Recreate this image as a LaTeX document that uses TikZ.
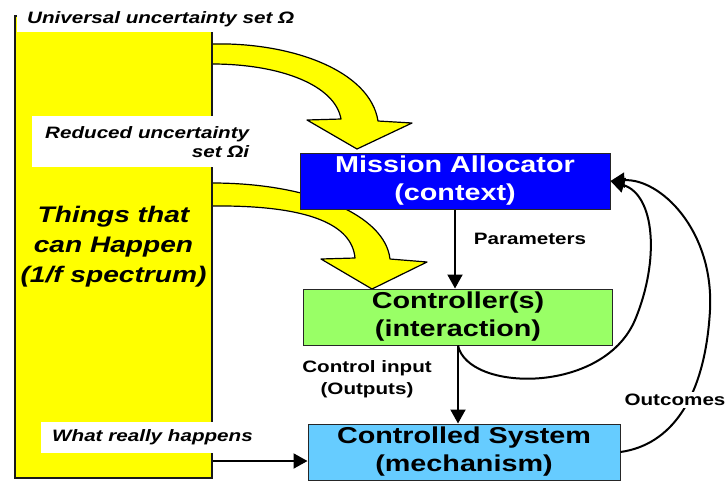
\documentclass[tikz,border=0pt]{standalone}
\usepackage{fontspec}
\setmainfont{Liberation Sans}[FakeStretch=1.25]
\usetikzlibrary{arrows.meta, positioning, calc}
\definecolor{allocblue}{RGB}{0,0,255}
\definecolor{ctrlgreen}{RGB}{153,255,102}
\definecolor{plantblue}{RGB}{102,204,255}
\definecolor{bandyellow}{RGB}{255,255,0}
\tikzset{
  block/.style={
    rectangle,
    draw=black!85,
    line width=1pt,
    inner sep=0pt,
    align=center,
    minimum width=310pt,
    minimum height=56pt,
    font=\fontsize{23}{28}\selectfont\bfseries
  },
  note/.style={
    fill=white,
    inner ysep=0pt,
    anchor=north west,
    font=\fontsize{16.5}{19}\selectfont\bfseries\itshape
  },
  tag/.style={
    inner sep=0pt,
    align=center,
    font=\fontsize{16.5}{22}\selectfont\bfseries
  },
  arrow/.style={
    line width=2pt,
    -{Triangle[width=15pt,length=14pt]}
  },
  band/.style={
    fill=bandyellow,
    draw=black,
    line width=1.2pt,
    line join=round
  }
}

\begin{document}
\begin{tikzpicture}[x=1pt, y=-1pt]
  \useasboundingbox (0,0) rectangle (725,483);

  % broad yellow arrows out of the spectrum bar
  \draw[band] (205,44) -- (212,44) .. controls (290,42) and (370,70) .. (378,121)
    -- (412,123) -- (357,149) -- (307,120) -- (341,119)
    .. controls (335,85) and (280,64) .. (212,64) -- (205,64) -- cycle;
  \draw[band] (205,183) -- (212,183) .. controls (310,183) and (385,215) .. (390,259)
    -- (427,262) -- (372,289) -- (321,259) -- (355,258)
    .. controls (352,225) and (310,205) .. (212,206) -- (205,206) -- cycle;

  \node[rectangle, draw=black!90, line width=1.5pt, fill=bandyellow,
    minimum width=197pt, minimum height=462pt, align=center,
    font=\fontsize{22.5}{30}\selectfont\bfseries\itshape] (things) at (113.5,247)
    {Things that\\can Happen\\(1/f spectrum)};

  \node[note, inner xsep=10pt, text height=23pt, text depth=9pt] (universal) at (17,0)
    {Universal uncertainty set Ω};
  \node[note, inner xsep=13pt, minimum height=51pt, align=right] (reduced) at (32,116)
    {Reduced uncertainty\\set Ωi};
  \node[note, inner xsep=11pt, minimum height=31pt] (happens) at (41,422)
    {What really happens};

  \node[block, fill=allocblue, text=white] (alloc) at (455,181) {Mission Allocator\\(context)};
  \node[block, fill=ctrlgreen, minimum width=309pt] (ctrl) at (458,317) {Controller(s)\\(interaction)};
  \node[block, fill=plantblue, minimum width=312pt] (plant) at (464,452) {Controlled System\\(mechanism)};

  \draw[arrow] (alloc.south) -- (alloc.south |- ctrl.north);
  \draw[arrow] (ctrl.south) -- (ctrl.south |- plant.north);
  \draw[arrow] (things.east |- 0,461) -- (plant.west |- 0,461);

  \node[tag] (params) at (530,239) {Parameters};
  \node[tag] (input) at (367,379) {Control input\\(Outputs)};

  % feedback loops back to the allocator
  \draw[arrow] (ctrl.south) .. controls (468,392) and (603,395) .. (635,320)
    .. controls (660,260) and (655,195) .. (alloc.east);
  \draw[arrow] (plant.east) .. controls (670,445) and (705,400) .. (710,310)
    .. controls (714,230) and (660,178) .. (alloc.east);
  \node[tag, fill=white, inner sep=2pt] (outcomes) at (675,400) {Outcomes};
\end{tikzpicture}
\end{document}
